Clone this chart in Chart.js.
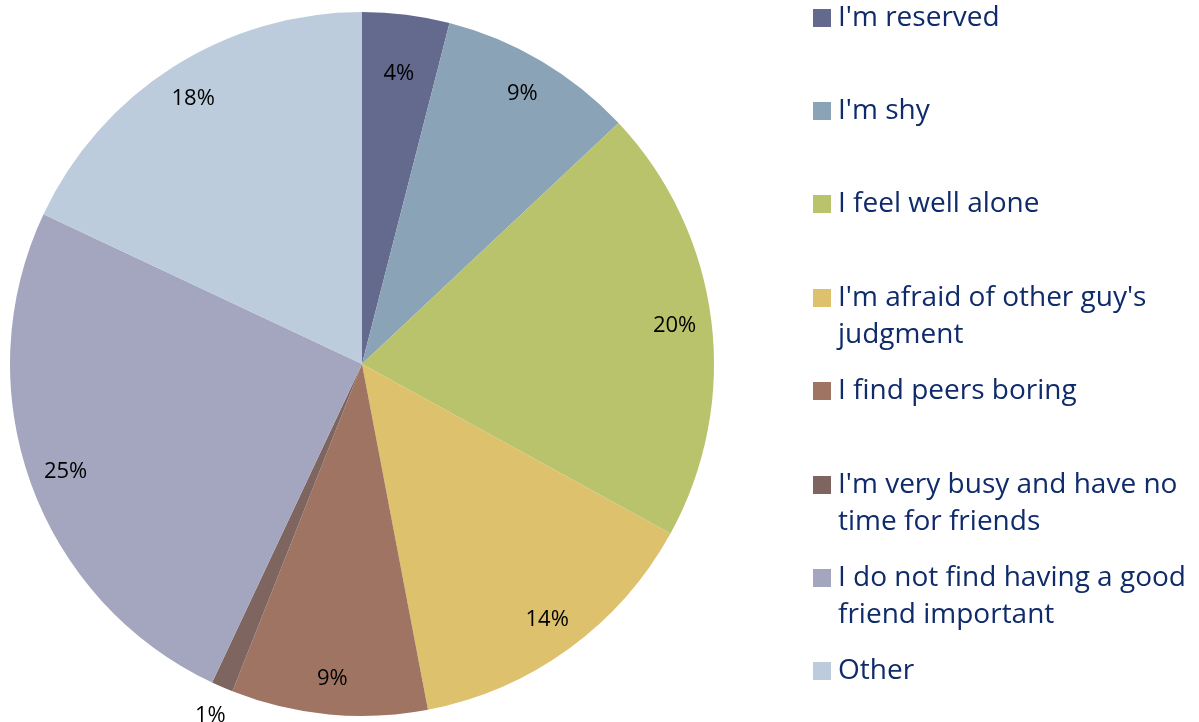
<!DOCTYPE html>
<html>
<head>
<meta charset="utf-8">
<script src="https://cdn.jsdelivr.net/npm/chart.js@4"></script>
<style>
html,body{margin:0;padding:0;background:#fff;}
#wrap{width:1199px;height:722px;position:relative;}
</style>
</head>
<body>
<div id="wrap"><canvas id="c" width="1199" height="722"></canvas></div>
<script>
const categories = ["I'm reserved", "I'm shy", "I feel well alone", "I'm afraid of other guy's judgment", "I find peers boring", "I'm very busy and have no time for friends", "I do not find having a good friend important", "Other"];
const legendLines = [["I'm reserved"], ["I'm shy"], ["I feel well alone"], ["I'm afraid of other guy's", "judgment"], ["I find peers boring"], ["I'm very busy and have no", "time for friends"], ["I do not find having a good", "friend important"], ["Other"]];
const values = [4, 9, 20, 14, 9, 1, 25, 18];
const colors = ["#646A8E", "#8BA3B6", "#B9C36C", "#DDC16C", "#A07462", "#7E6560", "#A3A6BE", "#BCCCDC"];

const FONT = "'Open Sans', 'DejaVu Sans', sans-serif";

const labelPlugin = {
  id: 'pctLabels',
  afterDatasetsDraw(chart) {
    const ctx = chart.ctx;
    const meta = chart.getDatasetMeta(0);
    const total = values.reduce((a, b) => a + b, 0);
    ctx.save();
    ctx.font = "22px " + FONT;
    ctx.fillStyle = "#000";
    ctx.textAlign = "center";
    ctx.textBaseline = "middle";
    meta.data.forEach((arc, i) => {
      const p = arc.getProps(['x', 'y', 'startAngle', 'endAngle', 'outerRadius'], true);
      const mid = (p.startAngle + p.endAngle) / 2;
      const pct = values[i] / total * 100;
      let f = 0.895;
      if (pct < 2) f = 1.085;
      else if (pct < 5) f = 0.835;
      const r = p.outerRadius * f;
      ctx.fillText(Math.round(pct) + "%", p.x + Math.cos(mid) * r, p.y + Math.sin(mid) * r + 1);
    });
    ctx.restore();
  }
};

const legendPlugin = {
  id: 'sideLegend',
  afterDraw(chart) {
    const ctx = chart.ctx;
    const rowY = [18, 111, 204, 298, 391, 485, 578, 671];
    const lineH = 37.5;
    ctx.save();
    ctx.font = "28px " + FONT;
    ctx.textBaseline = "middle";
    ctx.textAlign = "left";
    legendLines.forEach((lines, i) => {
      const y = rowY[i];
      ctx.fillStyle = colors[i];
      ctx.fillRect(813, y - 9, 18, 18);
      ctx.fillStyle = "#0F2B6B";
      lines.forEach((t, k) => ctx.fillText(t, 838, y + k * lineH));
    });
    ctx.restore();
  }
};

new Chart(document.getElementById('c'), {
  type: 'pie',
  data: {
    labels: categories,
    datasets: [{ data: values, backgroundColor: colors, borderWidth: 0, hoverOffset: 0 }]
  },
  options: {
    responsive: false,
    animation: false,
    layout: { padding: { left: 10, top: 12, bottom: 6, right: 485 } },
    plugins: { legend: { display: false }, tooltip: { enabled: false } }
  },
  plugins: [labelPlugin, legendPlugin]
});
</script>
</body>
</html>
